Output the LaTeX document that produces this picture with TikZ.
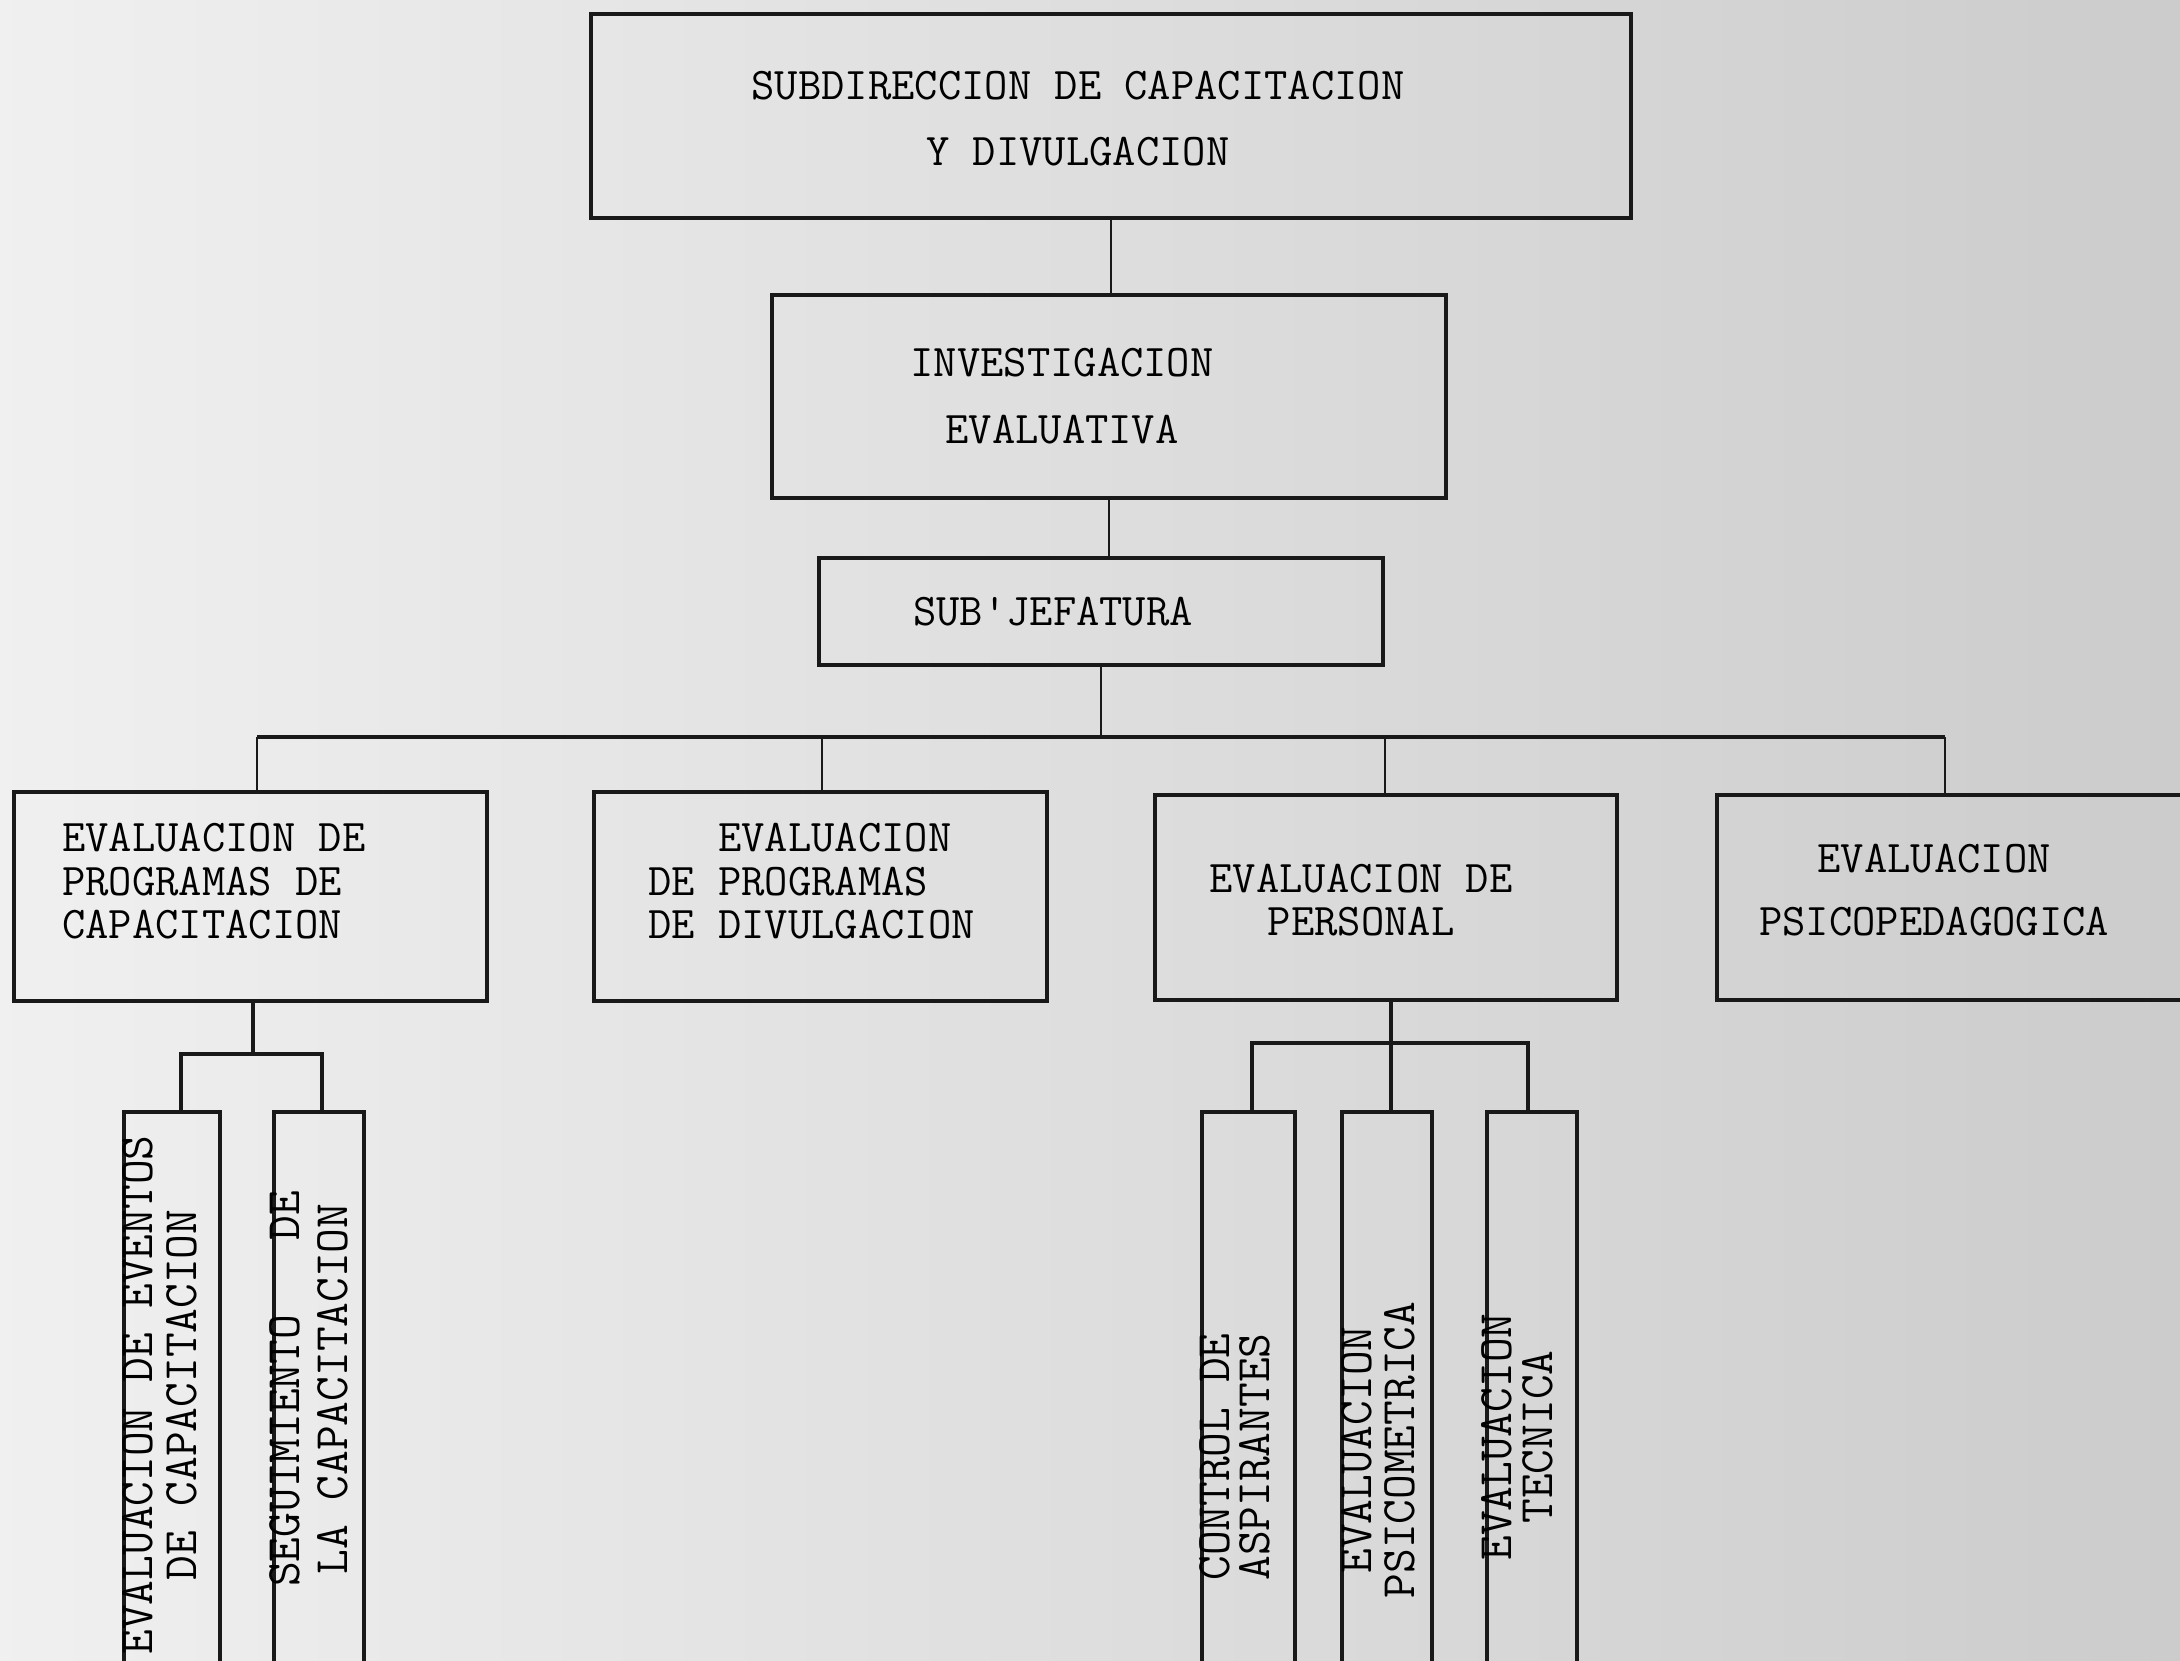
\documentclass[tikz,border=0pt]{standalone}
\usepackage{fontspec}
\newcommand{\twfont}{\ttfamily\addfontfeatures{FakeBold=1.6}}
\begin{document}
\begin{tikzpicture}[x=1pt,y=-1pt,
  box/.style={draw=black!90, line width=3.4pt, inner sep=0pt},
  vbox/.style={draw=black!90, line width=4.6pt, inner sep=0pt},
  conn/.style={draw=black!90, line width=2.6pt},
  htxt/.style={font=\twfont\fontsize{45.3}{#1}\selectfont, inner sep=0pt, text=black},
  htxt/.default=43.5,
  vtxt/.style={font=\twfont\fontsize{48}{#1}\selectfont, inner sep=0pt, text=black, rotate=90, align=center},
  vtxt/.default=43]
\shade[left color=black!6, right color=black!20] (0,0) rectangle (2180,1661);
\useasboundingbox (0,0) rectangle (2180,1661);
\clip (0,0) rectangle (2180,1661);

% upper chain
\node[box, minimum width=1040pt, minimum height=204pt] (top) at (1111,116) {};
\node[htxt=66, align=center] (ttop) at (1078,119) {SUBDIRECCION DE CAPACITACION\\Y DIVULGACION};
\node[box, minimum width=674pt, minimum height=203pt] (inv) at (1109,396.5) {};
\node[htxt=67, align=center] (tinv) at (1062,396.5) {INVESTIGACION\\EVALUATIVA};
\node[box, minimum width=564pt, minimum height=107pt] (sub) at (1101,611.5) {};
\node[htxt] (tsub) at (1053,612) {SUB'JEFATURA};

% second level
\node[box, minimum width=473pt, minimum height=209pt] (A) at (250.5,896.5) {};
\node[htxt, align=left, anchor=west] (tA) at (62,881.5) {EVALUACION DE\\PROGRAMAS DE\\CAPACITACION};
\node[box, minimum width=453pt, minimum height=209pt] (B) at (820.5,896.5) {};
\node[htxt, align=left, anchor=west] (tB) at (648,881.5) {\hphantom{XXX}EVALUACION\\DE PROGRAMAS\\DE DIVULGACION};
\node[box, minimum width=462pt, minimum height=205pt] (C) at (1386,897.5) {};
\node[htxt=43, align=center] (tC) at (1361,900) {EVALUACION DE\\PERSONAL};
\node[box, minimum width=478pt, minimum height=205pt] (D) at (1956,897.5) {};
\node[htxt=63, align=center] (tD) at (1934,890) {EVALUACION\\PSICOPEDAGOGICA};

% third level (vertical boxes)
\node[vbox, minimum width=96pt, minimum height=588pt] (A1) at (172,1406) {};
\node[vtxt=44] (tA1) at (160,1395) {EVALUACION DE EVENTOS\\DE CAPACITACION};
\node[vbox, minimum width=90pt, minimum height=588pt] (A2) at (319,1406) {};
\node[vtxt=48] (tA2) at (309,1389) {SEGUIMIENTO\ \ \ DE\\LA CAPACITACION};
\node[vbox, minimum width=93pt, minimum height=588pt] (C1) at (1248.5,1406) {};
\node[vtxt=40] (tC1) at (1235,1457) {CONTROL DE\\ASPIRANTES};
\node[vbox, minimum width=90pt, minimum height=588pt] (C2) at (1387,1406) {};
\node[vtxt=43] (tC2) at (1378.5,1450) {EVALUACION\\PSICOMETRICA};
\node[vbox, minimum width=90pt, minimum height=588pt] (C3) at (1532,1406) {};
\node[vtxt=41] (tC3) at (1517.5,1437) {EVALUACION\\TECNICA};

% connectors upper
\draw[conn] (top.south) -- (top.south |- inv.north);
\draw[conn] (inv.south) -- (inv.south |- sub.north);
\coordinate (busL) at (257,737);
\coordinate (busR) at (1945,737);
\coordinate (dB) at (822,737);
\coordinate (dC) at (1385,737);
\draw[conn] (sub.south) -- (sub.south |- busL);
\draw[conn, line width=3.2pt] (busL) -- (busR);
\draw[conn] (busL) -- (busL |- A.north);
\draw[conn] (dB) -- (dB |- B.north);
\draw[conn] (dC) -- (dC |- C.north);
\draw[conn] (busR) -- (busR |- D.north);

% connectors lower left
\coordinate (aj) at (253,1054);
\coordinate (a1j) at (181,1054);
\coordinate (a2j) at (322,1054);
\draw[conn, line width=3.2pt] (aj |- A.south) -- (aj);
\draw[conn, line width=3.2pt] (a1j |- A1.north) -- (a1j) -- (a2j) -- (a2j |- A2.north);

% connectors lower right
\coordinate (cj) at (1391,1043);
\coordinate (c1j) at (1252,1043);
\coordinate (c3j) at (1528,1043);
\draw[conn, line width=3.2pt] (cj |- C.south) -- (cj) -- (cj |- C2.north);
\draw[conn, line width=3.2pt] (c1j |- C1.north) -- (c1j) -- (c3j) -- (c3j |- C3.north);
\end{tikzpicture}
\end{document}
